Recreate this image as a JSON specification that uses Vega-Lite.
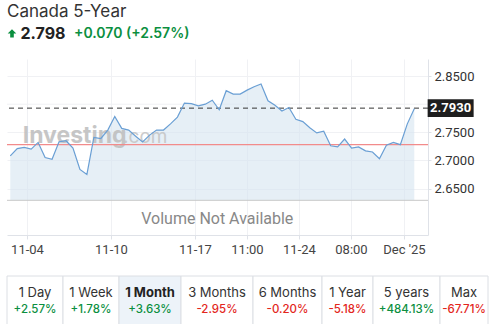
{
  "$schema": "https://vega.github.io/schema/vega-lite/v6.json",
  "padding": {"left": 6, "top": 3, "right": 0, "bottom": 0},
  "background": "white",
  "config": {
    "view": {"stroke": null},
    "font": "Roboto",
    "locale": {"number": {"decimal": ".", "thousands": ",", "grouping": [3], "currency": ["$", ""], "minus": "-"}}
  },
  "datasets": {
    "quote": [
      {"part": "arrow", "label": ""},
      {"part": "price", "label": "2.798"},
      {"part": "change", "label": "+0.070 (+2.57%)"}
    ],
    "series": [
      {"i": 0, "v": 2.708}, {"i": 1, "v": 2.721}, {"i": 2, "v": 2.723}, {"i": 3, "v": 2.720},
      {"i": 4, "v": 2.732}, {"i": 5, "v": 2.705}, {"i": 6, "v": 2.702}, {"i": 7, "v": 2.733},
      {"i": 8, "v": 2.735}, {"i": 9, "v": 2.722}, {"i": 10, "v": 2.684}, {"i": 11, "v": 2.675},
      {"i": 12, "v": 2.741}, {"i": 13, "v": 2.739}, {"i": 14, "v": 2.754}, {"i": 15, "v": 2.778},
      {"i": 16, "v": 2.757}, {"i": 17, "v": 2.754}, {"i": 18, "v": 2.743}, {"i": 19, "v": 2.733},
      {"i": 20, "v": 2.745}, {"i": 21, "v": 2.754}, {"i": 22, "v": 2.754}, {"i": 23, "v": 2.765},
      {"i": 24, "v": 2.777}, {"i": 25, "v": 2.802}, {"i": 26, "v": 2.801}, {"i": 27, "v": 2.797},
      {"i": 28, "v": 2.800}, {"i": 29, "v": 2.807}, {"i": 30, "v": 2.790}, {"i": 31, "v": 2.824},
      {"i": 32, "v": 2.818}, {"i": 33, "v": 2.818}, {"i": 34, "v": 2.825}, {"i": 35, "v": 2.831},
      {"i": 36, "v": 2.836}, {"i": 37, "v": 2.806}, {"i": 38, "v": 2.798}, {"i": 39, "v": 2.788},
      {"i": 40, "v": 2.794}, {"i": 41, "v": 2.773}, {"i": 42, "v": 2.769}, {"i": 43, "v": 2.758},
      {"i": 44, "v": 2.749}, {"i": 45, "v": 2.752}, {"i": 46, "v": 2.726}, {"i": 47, "v": 2.724},
      {"i": 48, "v": 2.738}, {"i": 49, "v": 2.722}, {"i": 50, "v": 2.724}, {"i": 51, "v": 2.717},
      {"i": 52, "v": 2.715}, {"i": 53, "v": 2.703}, {"i": 54, "v": 2.727}, {"i": 55, "v": 2.732},
      {"i": 56, "v": 2.728}, {"i": 57, "v": 2.765}, {"i": 58, "v": 2.792}
    ],
    "last": [{"value": 2.793, "note": "Volume Not Available", "brand": "Investing", "suffix": ".com"}],
    "prev": [{"value": 2.728}],
    "periods": [
      {"period": "1 Day", "change": 0.0257},
      {"period": "1 Week", "change": 0.0178},
      {"period": "1 Month", "change": 0.0363},
      {"period": "3 Months", "change": -0.0295},
      {"period": "6 Months", "change": -0.0020},
      {"period": "1 Year", "change": -0.0518},
      {"period": "5 years", "change": 4.8413},
      {"period": "Max", "change": -0.6771}
    ]
  },
  "spacing": 19,
  "vconcat": [
    {
      "spacing": 15,
      "vconcat": [
        {
          "width": 72,
          "height": 21,
          "title": {"text": "Canada 5-Year", "anchor": "start", "font": "Inter", "fontSize": 17, "fontWeight": "normal", "color": "#333333", "offset": 2},
          "data": {"name": "quote"},
          "encoding": {
            "x": {"field": "part", "type": "nominal", "scale": {"type": "point", "domain": ["arrow", "price", "change"], "padding": 0.161}, "axis": null}
          },
          "layer": [
            {
              "transform": [{"filter": "datum.part == 'arrow'"}],
              "mark": {"type": "point", "shape": "M0,-1L1,0L0.42,0L0.42,0.95L-0.42,0.95L-0.42,0L-1,0Z", "filled": true, "size": 74, "color": "#0b8f3f", "opacity": 1}
            },
            {
              "transform": [{"filter": "datum.part == 'price'"}],
              "mark": {"type": "text", "font": "Inter", "fontSize": 16, "fontWeight": "bold", "color": "#222222", "align": "center"},
              "encoding": {"text": {"field": "label"}}
            },
            {
              "transform": [{"filter": "datum.part == 'change'"}],
              "mark": {"type": "text", "font": "Inter", "fontSize": 14, "fontWeight": 600, "color": "#0b8f3f", "align": "left"},
              "encoding": {"text": {"field": "label"}}
            }
          ]
        },
        {
          "width": 421,
          "height": 176,
          "layer": [
            {
              "data": {"name": "last"},
              "mark": {"type": "rule", "color": "#f0f1f4", "strokeWidth": 1},
              "encoding": {"y": {"datum": 2.8, "type": "quantitative"}}
            },
            {
              "data": {"name": "series"},
              "mark": {"type": "area", "color": "#d6e4f0", "opacity": 0.6},
              "encoding": {
                "x": {
                  "field": "i", "type": "quantitative",
                  "scale": {"domain": [-0.47, 59.97], "nice": false, "zero": false},
                  "axis": {
                    "values": [2.4, 14.45, 26.51, 33.98, 41.44, 48.91, 56.52],
                    "labelExpr": "datum.value < 5 ? '11-04' : datum.value < 20 ? '11-10' : datum.value < 30 ? '11-17' : datum.value < 38 ? '11:00' : datum.value < 45 ? '11-24' : datum.value < 52 ? '08:00' : \"Dec '25\"",
                    "title": null, "grid": true, "gridColor": "#f0f1f4", "domainColor": "#dfe2e8",
                    "tickColor": "#dfe2e8", "tickSize": 4, "labelPadding": 4, "labelFontSize": 13,
                    "labelColor": "#444444", "labelFont": "Roboto", "labelFlush": false, "labelOverlap": false
                  }
                },
                "y": {
                  "field": "v", "type": "quantitative",
                  "scale": {"domain": [2.5673, 2.8804], "nice": false, "zero": false},
                  "axis": {
                    "orient": "right", "values": [2.65, 2.7, 2.75, 2.85], "format": ".4f",
                    "title": null, "grid": true, "gridColor": "#f0f1f4", "domainColor": "#dfe2e8",
                    "tickColor": "#dfe2e8", "tickSize": 3, "labelPadding": 3, "labelFontSize": 13,
                    "labelColor": "#333333", "labelFont": "Roboto"
                  }
                },
                "y2": {"datum": 2.629}
              }
            },
            {
              "data": {"name": "last"},
              "mark": {"type": "text", "font": "Inter", "fontSize": 23, "fontWeight": "bold", "color": "#bdbdbd", "opacity": 0.85, "align": "left", "baseline": "alphabetic"},
              "encoding": {
                "x": {"datum": 1.78, "type": "quantitative"},
                "y": {"datum": 2.7304, "type": "quantitative"},
                "text": {"field": "brand"}
              }
            },
            {
              "data": {"name": "last"},
              "mark": {"type": "text", "font": "Inter", "fontSize": 19, "fontWeight": "normal", "color": "#c4c4c4", "opacity": 0.85, "align": "left", "baseline": "alphabetic"},
              "encoding": {
                "x": {"datum": 16.2, "type": "quantitative"},
                "y": {"datum": 2.7304, "type": "quantitative"},
                "text": {"field": "suffix"}
              }
            },
            {
              "data": {"name": "last"},
              "mark": {"type": "rule", "color": "#c8c8c8", "strokeWidth": 1},
              "encoding": {"y": {"datum": 2.629, "type": "quantitative"}}
            },
            {
              "data": {"name": "last"},
              "mark": {"type": "text", "font": "Roboto", "fontSize": 16, "color": "#888888", "align": "center", "baseline": "middle"},
              "encoding": {
                "x": {"datum": 29.72, "type": "quantitative"},
                "y": {"datum": 2.595, "type": "quantitative"},
                "text": {"field": "note"}
              }
            },
            {
              "data": {"name": "prev"},
              "mark": {"type": "rule", "color": "#f28b8b", "strokeWidth": 1.2},
              "encoding": {"y": {"field": "value", "type": "quantitative"}}
            },
            {
              "data": {"name": "last"},
              "mark": {"type": "rule", "color": "#333333", "strokeWidth": 1, "strokeDash": [5, 4]},
              "encoding": {"y": {"field": "value", "type": "quantitative"}}
            },
            {
              "data": {"name": "series"},
              "mark": {"type": "line", "color": "#6a9fd4", "strokeWidth": 1.2},
              "encoding": {
                "x": {"field": "i", "type": "quantitative"},
                "y": {"field": "v", "type": "quantitative"}
              }
            },
            {
              "data": {"name": "last"},
              "mark": {"type": "point", "shape": "M-1,-0.39L1,-0.39L1,0.39L-1,0.39Z", "filled": true, "size": 2116, "color": "#1e1e1e", "opacity": 1},
              "encoding": {
                "x": {"datum": 63.22, "type": "quantitative"},
                "y": {"field": "value", "type": "quantitative"}
              }
            },
            {
              "data": {"name": "last"},
              "mark": {"type": "text", "font": "Roboto", "fontSize": 13, "fontWeight": "bold", "color": "#ffffff", "align": "center", "baseline": "middle"},
              "encoding": {
                "x": {"datum": 63.22, "type": "quantitative"},
                "y": {"field": "value", "type": "quantitative"},
                "text": {"field": "value", "format": ".4f"}
              }
            }
          ]
        }
      ]
    },
    {
      "spacing": 0,
      "bounds": "flush",
      "resolve": {"scale": {"x": "independent"}},
      "hconcat": [
        {
          "width": 56, "height": 49, "data": {"name": "periods"},
          "transform": [{"filter": "datum.period == '1 Day'"}],
          "encoding": {"x": {"field": "period", "type": "nominal", "scale": {"paddingInner": 0, "paddingOuter": 0}, "axis": null}},
          "layer": [
            {"mark": {"type": "rect", "stroke": "#dcdfe4", "strokeWidth": 1, "color": "#ffffff"}},
            {"mark": {"type": "text", "font": "Inter", "fontSize": 13, "color": "#333333", "dy": -7.5}, "encoding": {"text": {"field": "period"}}},
            {"mark": {"type": "text", "font": "Inter", "fontSize": 11.5, "fontWeight": 500, "dy": 9.5}, "encoding": {"text": {"field": "change", "type": "quantitative", "format": "+.2%"}, "color": {"condition": {"test": "datum.change >= 0", "value": "#0b8f3f"}, "value": "#e3261c"}}}
          ]
        },
        {
          "width": 56, "height": 49, "data": {"name": "periods"},
          "transform": [{"filter": "datum.period == '1 Week'"}],
          "encoding": {"x": {"field": "period", "type": "nominal", "scale": {"paddingInner": 0, "paddingOuter": 0}, "axis": null}},
          "layer": [
            {"mark": {"type": "rect", "stroke": "#dcdfe4", "strokeWidth": 1, "color": "#ffffff"}},
            {"mark": {"type": "text", "font": "Inter", "fontSize": 13, "color": "#333333", "dy": -7.5}, "encoding": {"text": {"field": "period"}}},
            {"mark": {"type": "text", "font": "Inter", "fontSize": 11.5, "fontWeight": 500, "dy": 9.5}, "encoding": {"text": {"field": "change", "type": "quantitative", "format": "+.2%"}, "color": {"condition": {"test": "datum.change >= 0", "value": "#0b8f3f"}, "value": "#e3261c"}}}
          ]
        },
        {
          "width": 62, "height": 49, "data": {"name": "periods"},
          "transform": [{"filter": "datum.period == '1 Month'"}],
          "encoding": {"x": {"field": "period", "type": "nominal", "scale": {"paddingInner": 0, "paddingOuter": 0}, "axis": null}},
          "layer": [
            {"mark": {"type": "rect", "stroke": "#dcdfe4", "strokeWidth": 1, "color": "#edf3f9"}},
            {"mark": {"type": "text", "font": "Inter", "fontSize": 13, "fontWeight": "bold", "color": "#222222", "dy": -7.5}, "encoding": {"text": {"field": "period"}}},
            {"mark": {"type": "text", "font": "Inter", "fontSize": 11.5, "fontWeight": 500, "dy": 9.5}, "encoding": {"text": {"field": "change", "type": "quantitative", "format": "+.2%"}, "color": {"condition": {"test": "datum.change >= 0", "value": "#0b8f3f"}, "value": "#e3261c"}}}
          ]
        },
        {
          "width": 72, "height": 49, "data": {"name": "periods"},
          "transform": [{"filter": "datum.period == '3 Months'"}],
          "encoding": {"x": {"field": "period", "type": "nominal", "scale": {"paddingInner": 0, "paddingOuter": 0}, "axis": null}},
          "layer": [
            {"mark": {"type": "rect", "stroke": "#dcdfe4", "strokeWidth": 1, "color": "#ffffff"}},
            {"mark": {"type": "text", "font": "Inter", "fontSize": 13, "color": "#333333", "dy": -7.5}, "encoding": {"text": {"field": "period"}}},
            {"mark": {"type": "text", "font": "Inter", "fontSize": 11.5, "fontWeight": 500, "dy": 9.5}, "encoding": {"text": {"field": "change", "type": "quantitative", "format": "+.2%"}, "color": {"condition": {"test": "datum.change >= 0", "value": "#0b8f3f"}, "value": "#e3261c"}}}
          ]
        },
        {
          "width": 69, "height": 49, "data": {"name": "periods"},
          "transform": [{"filter": "datum.period == '6 Months'"}],
          "encoding": {"x": {"field": "period", "type": "nominal", "scale": {"paddingInner": 0, "paddingOuter": 0}, "axis": null}},
          "layer": [
            {"mark": {"type": "rect", "stroke": "#dcdfe4", "strokeWidth": 1, "color": "#ffffff"}},
            {"mark": {"type": "text", "font": "Inter", "fontSize": 13, "color": "#333333", "dy": -7.5}, "encoding": {"text": {"field": "period"}}},
            {"mark": {"type": "text", "font": "Inter", "fontSize": 11.5, "fontWeight": 500, "dy": 9.5}, "encoding": {"text": {"field": "change", "type": "quantitative", "format": "+.2%"}, "color": {"condition": {"test": "datum.change >= 0", "value": "#0b8f3f"}, "value": "#e3261c"}}}
          ]
        },
        {
          "width": 51, "height": 49, "data": {"name": "periods"},
          "transform": [{"filter": "datum.period == '1 Year'"}],
          "encoding": {"x": {"field": "period", "type": "nominal", "scale": {"paddingInner": 0, "paddingOuter": 0}, "axis": null}},
          "layer": [
            {"mark": {"type": "rect", "stroke": "#dcdfe4", "strokeWidth": 1, "color": "#ffffff"}},
            {"mark": {"type": "text", "font": "Inter", "fontSize": 13, "color": "#333333", "dy": -7.5}, "encoding": {"text": {"field": "period"}}},
            {"mark": {"type": "text", "font": "Inter", "fontSize": 11.5, "fontWeight": 500, "dy": 9.5}, "encoding": {"text": {"field": "change", "type": "quantitative", "format": "+.2%"}, "color": {"condition": {"test": "datum.change >= 0", "value": "#0b8f3f"}, "value": "#e3261c"}}}
          ]
        },
        {
          "width": 67, "height": 49, "data": {"name": "periods"},
          "transform": [{"filter": "datum.period == '5 years'"}],
          "encoding": {"x": {"field": "period", "type": "nominal", "scale": {"paddingInner": 0, "paddingOuter": 0}, "axis": null}},
          "layer": [
            {"mark": {"type": "rect", "stroke": "#dcdfe4", "strokeWidth": 1, "color": "#ffffff"}},
            {"mark": {"type": "text", "font": "Inter", "fontSize": 13, "color": "#333333", "dy": -7.5}, "encoding": {"text": {"field": "period"}}},
            {"mark": {"type": "text", "font": "Inter", "fontSize": 11.5, "fontWeight": 500, "dy": 9.5}, "encoding": {"text": {"field": "change", "type": "quantitative", "format": "+.2%"}, "color": {"condition": {"test": "datum.change >= 0", "value": "#0b8f3f"}, "value": "#e3261c"}}}
          ]
        },
        {
          "width": 48, "height": 49, "data": {"name": "periods"},
          "transform": [{"filter": "datum.period == 'Max'"}],
          "encoding": {"x": {"field": "period", "type": "nominal", "scale": {"paddingInner": 0, "paddingOuter": 0}, "axis": null}},
          "layer": [
            {"mark": {"type": "rect", "stroke": "#dcdfe4", "strokeWidth": 1, "color": "#ffffff"}},
            {"mark": {"type": "text", "font": "Inter", "fontSize": 13, "color": "#333333", "dy": -7.5}, "encoding": {"text": {"field": "period"}}},
            {"mark": {"type": "text", "font": "Inter", "fontSize": 11.5, "fontWeight": 500, "dy": 9.5}, "encoding": {"text": {"field": "change", "type": "quantitative", "format": "+.2%"}, "color": {"condition": {"test": "datum.change >= 0", "value": "#0b8f3f"}, "value": "#e3261c"}}}
          ]
        }
      ]
    }
  ]
}
